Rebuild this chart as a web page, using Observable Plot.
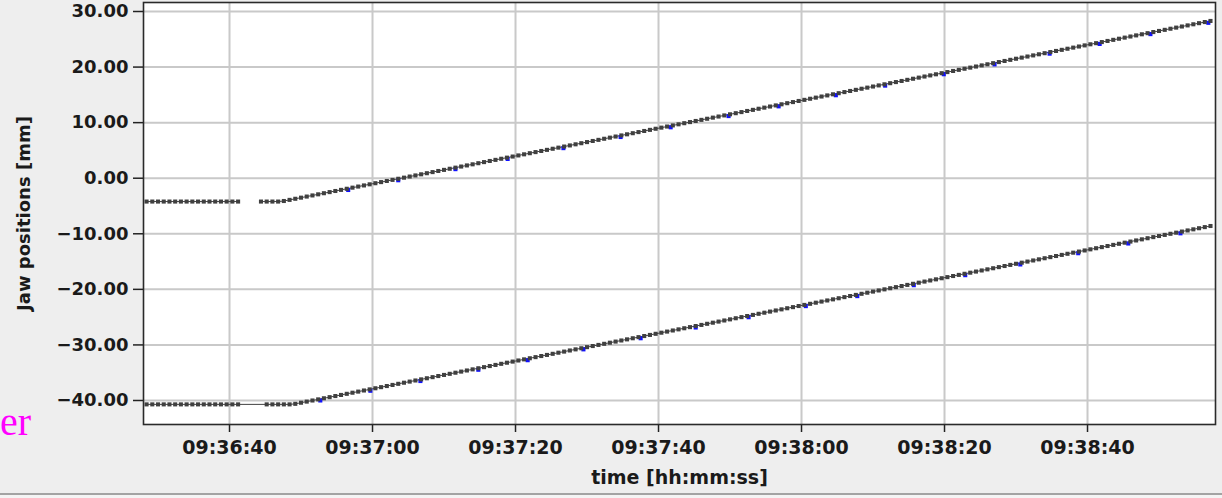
<!DOCTYPE html>
<html>
<head>
<meta charset="utf-8">
<script src="https://cdn.jsdelivr.net/npm/d3@7"></script>
<script src="https://cdn.jsdelivr.net/npm/@observablehq/plot@0.6"></script>
<style>
html, body { margin: 0; padding: 0; background: #eeeeee; }
#wrap { position: relative; width: 1222px; height: 498px; overflow: hidden; background: #eeeeee; }
#chart svg { display: block; }
#er { position: absolute; left: 0px; top: 402px; font-family: "Liberation Serif", serif; font-size: 40px; line-height: 1; color: #ff00ff; }
#edge { position: absolute; left: 0; top: 493px; width: 1222px; height: 2px; background: #a3a3a3; }
#below { position: absolute; left: 0; top: 495px; width: 1222px; height: 3px; background: #f4f4f4; }
</style>
</head>
<body>
<div id="wrap">
  <div id="chart"></div>
  <div id="er">er</div>
  <div id="edge"></div>
  <div id="below"></div>
</div>
<script>
// Sample times, seconds after 09:36:00
const sampleSeconds = [
  28.4, 29.2, 30, 30.8, 31.6, 32.4, 33.2, 34, 34.8, 35.6,
  36.4, 37.2, 38, 38.8, 39.6, 40.4, 41.2, 42, 42.8, 43.6,
  44.4, 45.2, 46, 46.8, 47.6, 48.4, 49.2, 50, 50.8, 51.6,
  52.4, 53.2, 54, 54.8, 55.6, 56.4, 57.2, 58, 58.8, 59.6,
  60.4, 61.2, 62, 62.8, 63.6, 64.4, 65.2, 66, 66.8, 67.6,
  68.4, 69.2, 70, 70.8, 71.6, 72.4, 73.2, 74, 74.8, 75.6,
  76.4, 77.2, 78, 78.8, 79.6, 80.4, 81.2, 82, 82.8, 83.6,
  84.4, 85.2, 86, 86.8, 87.6, 88.4, 89.2, 90, 90.8, 91.6,
  92.4, 93.2, 94, 94.8, 95.6, 96.4, 97.2, 98, 98.8, 99.6,
  100.4, 101.2, 102, 102.8, 103.6, 104.4, 105.2, 106, 106.8, 107.6,
  108.4, 109.2, 110, 110.8, 111.6, 112.4, 113.2, 114, 114.8, 115.6,
  116.4, 117.2, 118, 118.8, 119.6, 120.4, 121.2, 122, 122.8, 123.6,
  124.4, 125.2, 126, 126.8, 127.6, 128.4, 129.2, 130, 130.8, 131.6,
  132.4, 133.2, 134, 134.8, 135.6, 136.4, 137.2, 138, 138.8, 139.6,
  140.4, 141.2, 142, 142.8, 143.6, 144.4, 145.2, 146, 146.8, 147.6,
  148.4, 149.2, 150, 150.8, 151.6, 152.4, 153.2, 154, 154.8, 155.6,
  156.4, 157.2, 158, 158.8, 159.6, 160.4, 161.2, 162, 162.8, 163.6,
  164.4, 165.2, 166, 166.8, 167.6, 168.4, 169.2, 170, 170.8, 171.6,
  172.4, 173.2, 174, 174.8, 175.6, 176.4, 177.2
];

const upperJaw = [
  -4.2, -4.2, -4.2, -4.2, -4.2, -4.2, -4.2, -4.2, -4.2, -4.2,
  -4.2, -4.2, -4.2, -4.2, -4.2, -4.2, -4.2, null, null, null,
  -4.2, -4.2, -4.2, -4.2, -4.1, -3.9, -3.7, -3.5, -3.3, -3.1,
  -2.9, -2.7, -2.5, -2.3, -2.1, -1.9, -1.7, -1.5, -1.3, -1.1,
  -0.9, -0.7, -0.5, -0.3, -0.1, 0.1, 0.3, 0.5, 0.7, 0.9,
  1.1, 1.3, 1.5, 1.7, 1.9, 2.1, 2.3, 2.5, 2.7, 2.9,
  3.1, 3.3, 3.5, 3.7, 3.9, 4.1, 4.3, 4.5, 4.7, 4.9,
  5.1, 5.3, 5.5, 5.7, 5.9, 6.1, 6.3, 6.5, 6.7, 6.9,
  7.1, 7.3, 7.5, 7.7, 7.9, 8.1, 8.3, 8.5, 8.7, 8.9,
  9.1, 9.3, 9.5, 9.7, 9.9, 10.1, 10.3, 10.5, 10.7, 10.9,
  11.1, 11.3, 11.5, 11.7, 11.9, 12.1, 12.3, 12.5, 12.7, 12.9,
  13.1, 13.3, 13.5, 13.7, 13.9, 14.1, 14.3, 14.5, 14.7, 14.9,
  15.1, 15.3, 15.5, 15.7, 15.9, 16.1, 16.3, 16.5, 16.7, 16.9,
  17.1, 17.3, 17.5, 17.7, 17.9, 18.1, 18.3, 18.5, 18.7, 18.9,
  19.1, 19.3, 19.5, 19.7, 19.9, 20.1, 20.3, 20.5, 20.7, 20.9,
  21.1, 21.3, 21.5, 21.7, 21.9, 22.1, 22.3, 22.5, 22.7, 22.9,
  23.1, 23.3, 23.5, 23.7, 23.9, 24.1, 24.3, 24.5, 24.7, 24.9,
  25.1, 25.3, 25.5, 25.7, 25.9, 26.1, 26.3, 26.5, 26.7, 26.9,
  27.1, 27.3, 27.5, 27.7, 27.9, 28.1, 28.3
];

const lowerJaw = [
  -40.7, -40.7, -40.7, -40.7, -40.7, -40.7, -40.7, -40.7, -40.7, -40.7,
  -40.7, -40.7, -40.7, -40.7, -40.7, -40.7, -40.7, null, null, null,
  null, -40.7, -40.7, -40.7, -40.7, -40.7, -40.6, -40.4, -40.2, -40.0,
  -39.8, -39.6, -39.4, -39.2, -39.0, -38.8, -38.6, -38.4, -38.2, -38.0,
  -37.8, -37.6, -37.4, -37.2, -37.0, -36.8, -36.6, -36.4, -36.2, -36.0,
  -35.8, -35.6, -35.4, -35.2, -35.0, -34.8, -34.6, -34.4, -34.2, -34.0,
  -33.8, -33.6, -33.4, -33.2, -33.0, -32.8, -32.6, -32.4, -32.2, -32.0,
  -31.8, -31.6, -31.4, -31.2, -31.0, -30.8, -30.6, -30.4, -30.2, -30.0,
  -29.8, -29.6, -29.4, -29.2, -29.0, -28.8, -28.6, -28.4, -28.2, -28.0,
  -27.8, -27.6, -27.4, -27.2, -27.0, -26.8, -26.6, -26.4, -26.2, -26.0,
  -25.8, -25.6, -25.4, -25.2, -25.0, -24.8, -24.6, -24.4, -24.2, -24.0,
  -23.8, -23.6, -23.4, -23.2, -23.0, -22.8, -22.6, -22.4, -22.2, -22.0,
  -21.8, -21.6, -21.4, -21.2, -21.0, -20.8, -20.6, -20.4, -20.2, -20.0,
  -19.8, -19.6, -19.4, -19.2, -19.0, -18.8, -18.6, -18.4, -18.2, -18.0,
  -17.8, -17.6, -17.4, -17.2, -17.0, -16.8, -16.6, -16.4, -16.2, -16.0,
  -15.8, -15.6, -15.4, -15.2, -15.0, -14.8, -14.6, -14.4, -14.2, -14.0,
  -13.8, -13.6, -13.4, -13.2, -13.0, -12.8, -12.6, -12.4, -12.2, -12.0,
  -11.8, -11.6, -11.4, -11.2, -11.0, -10.8, -10.6, -10.4, -10.2, -10.0,
  -9.8, -9.6, -9.4, -9.2, -9.0, -8.8, -8.6
];

// Sparse blue reference samples, partly hidden under the dark markers
const blueUpperSeconds = [56.6, 63.6, 71.6, 78.9, 86.7, 94.7, 101.7, 109.8, 116.8, 124.8, 131.7, 139.9, 147.0, 154.7, 161.7, 168.8, 176.9];
const blueUpperValues  = [-1.85, -0.1, 1.9, 3.73, 5.68, 7.68, 9.43, 11.45, 13.2, 15.2, 16.93, 18.98, 20.75, 22.68, 24.43, 26.2, 28.23];
const blueLowerSeconds = [52.7, 59.7, 66.7, 74.8, 81.7, 89.5, 97.5, 105.2, 112.6, 120.6, 127.8, 135.7, 142.9, 150.6, 158.7, 165.7, 173.0];
const blueLowerValues  = [-39.73, -37.98, -36.23, -34.2, -32.48, -30.53, -28.53, -26.6, -24.75, -22.75, -20.95, -18.98, -17.18, -15.25, -13.23, -11.48, -9.65];

const xTickLabels = ["09:36:40", "09:37:00", "09:37:20", "09:37:40", "09:38:00", "09:38:20", "09:38:40"];
const yTickValues = [-40, -30, -20, -10, 0, 10, 20, 30];
const xDomainSeconds = [27.97, 177.9];
const yDomain = [-44.32, 31.62];

const parseHMS = d3.utcParse("%H:%M:%S");
const base = parseHMS("09:36:00").getTime();
const toDate = s => new Date(base + Math.round(s * 1000));
const xTicks = xTickLabels.map(parseHMS);

const rows = sampleSeconds.map((s, i) => ({t: toDate(s), upper: upperJaw[i], lower: lowerJaw[i]}));
const upperDots = rows.filter(d => d.upper != null);
const lowerDots = rows.filter(d => d.lower != null);
const blueUp = blueUpperSeconds.map((s, i) => ({t: toDate(s), v: blueUpperValues[i]}));
const blueLo = blueLowerSeconds.map((s, i) => ({t: toDate(s), v: blueLowerValues[i]}));

const ink = "#404040";
const font = {fontFamily: "DejaVu Sans", fontWeight: "bold", fontSize: 19, fill: "#1a1a1a"};

const chart = Plot.plot({
  width: 1222,
  height: 490,
  marginTop: 2,
  marginLeft: 143,
  marginRight: 7,
  marginBottom: 66,
  style: {background: "transparent", fontFamily: "DejaVu Sans", fontWeight: "bold", fontSize: "19px", color: "#1a1a1a"},
  x: {type: "utc", domain: xDomainSeconds.map(toDate)},
  y: {domain: yDomain},
  marks: [
    Plot.frame({fill: "white"}),
    Plot.gridX(xTicks, {stroke: "#c9c9c9", strokeOpacity: 1, strokeWidth: 2}),
    Plot.gridY(yTickValues, {stroke: "#c9c9c9", strokeOpacity: 1, strokeWidth: 2}),
    Plot.axisX(xTicks, {
      tickFormat: d3.utcFormat("%H:%M:%S"), tickSize: 8, tickPadding: 8,
      stroke: "#222", strokeWidth: 1.5,
      label: "time [hh:mm:ss]", labelAnchor: "center", labelOffset: 59, labelArrow: false,
      ...font
    }),
    Plot.axisY(yTickValues, {
      tickFormat: d3.format(".2f"), tickSize: 10, tickPadding: 5,
      stroke: "#222", strokeWidth: 1.5,
      label: "Jaw positions [mm]", labelAnchor: "center", labelOffset: 126, labelArrow: false,
      ...font, fontSize: 18
    }),
    Plot.line(rows, {x: "t", y: "upper", stroke: ink, strokeWidth: 1}),
    Plot.line(lowerDots, {x: "t", y: "lower", stroke: ink, strokeWidth: 1}),
    Plot.dot(blueUp, {x: "t", y: "v", symbol: "square", r: 2.3, fill: "#1010ff", dy: 1.5}),
    Plot.dot(blueLo, {x: "t", y: "v", symbol: "square", r: 2.3, fill: "#1010ff", dy: 1.5}),
    Plot.dot(upperDots, {x: "t", y: "upper", symbol: "square", r: 2.3, fill: ink}),
    Plot.dot(lowerDots, {x: "t", y: "lower", symbol: "square", r: 2.3, fill: ink}),
    Plot.frame({stroke: "#2a2a2a", strokeWidth: 1.6})
  ]
});
document.getElementById("chart").appendChild(chart);
</script>
</body>
</html>
